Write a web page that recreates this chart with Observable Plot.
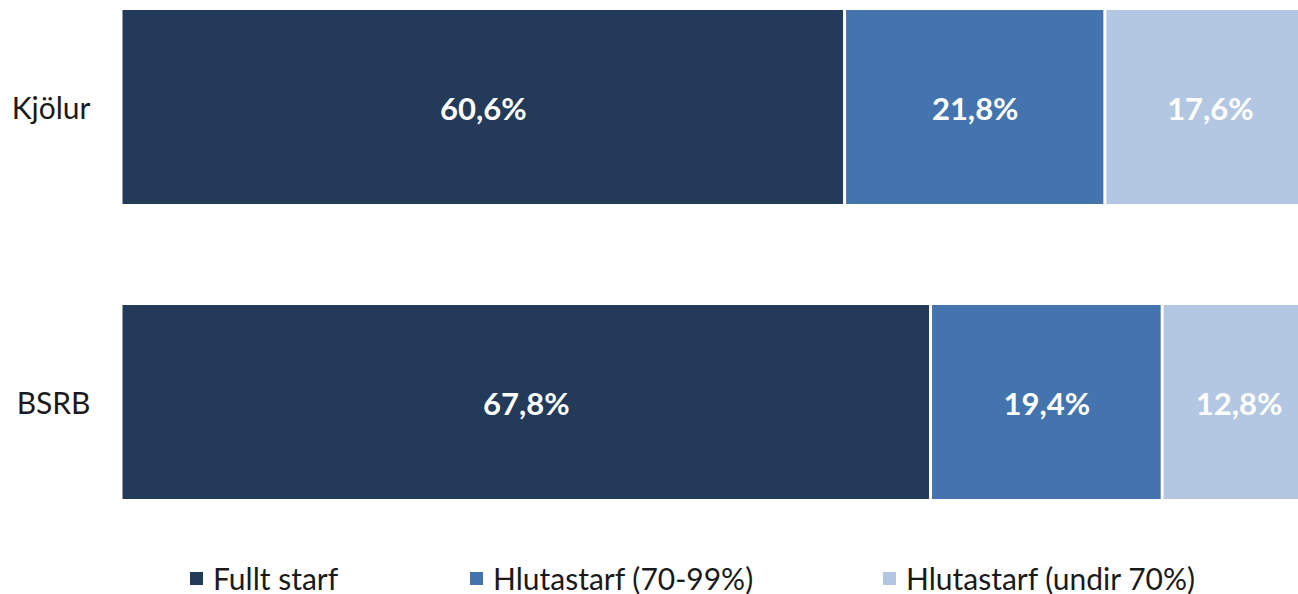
<!DOCTYPE html>
<html><head><meta charset="utf-8">
<script src="https://cdn.jsdelivr.net/npm/d3@7"></script>
<script src="https://cdn.jsdelivr.net/npm/@observablehq/plot@0.6"></script>
<style>
html,body{margin:0;padding:0;background:#fff;overflow:hidden;}
#wrap{position:relative;width:1298px;height:594px;font-family:Lato,"Open Sans",sans-serif;}
.leg{position:absolute;top:560px;display:flex;align-items:center;font-size:30px;color:#1a1a1a;white-space:nowrap;}
.sw{width:13px;height:13px;margin-right:10px;}
</style></head><body>
<div id="wrap"><div id="chart"></div><div id="legend"></div></div>
<script>
const categories = ["Kjölur", "BSRB"];
const series = ["Fullt starf", "Hlutastarf (70-99%)", "Hlutastarf (undir 70%)"];
const fulltStarf = [60.6, 67.8];
const hlutastarf7099 = [21.8, 19.4];
const hlutastarfUndir70 = [17.6, 12.8];
const colors = ["#233a58", "#4474ae", "#b3c7e2"];
const legendX = [190, 470, 883];

const seriesValues = [fulltStarf, hlutastarf7099, hlutastarfUndir70];
const data = [];
categories.forEach((c, i) => {
  series.forEach((s, j) => data.push({cat: c, series: s, value: seriesValues[j][i]}));
});
const fmt = v => v.toFixed(1).replace(".", ",") + "%";

const chart = Plot.plot({
  width: 1298,
  height: 545,
  marginLeft: 121,
  marginRight: 0,
  marginTop: 0,
  marginBottom: 0,
  style: {fontFamily: "Lato, 'Open Sans', sans-serif", background: "#fff"},
  x: {domain: [0, 100], range: [121, 1315], axis: null},
  y: {domain: categories, range: [10, 500], paddingInner: 0.342, paddingOuter: 0, label: null},
  color: {domain: series, range: colors},
  marks: [
    Plot.barX(data, Plot.stackX({x: "value", y: "cat", fill: "series", insetLeft: 1.5, insetRight: 1.5})),
    Plot.text(data, Plot.stackX({x: "value", y: "cat", text: d => fmt(d.value), fill: "white", fontSize: 31, fontWeight: "bold", dy: 3})),
    Plot.axisY({tickSize: 0, tickPadding: 31, fontSize: 30, fill: "#1a1a1a", label: null, dy: 2})
  ]
});
document.getElementById("chart").appendChild(chart);

const leg = document.getElementById("legend");
series.forEach((s, j) => {
  const d = document.createElement("div");
  d.className = "leg";
  d.style.left = legendX[j] + "px";
  d.innerHTML = `<div class="sw" style="background:${colors[j]}"></div><span>${s}</span>`;
  leg.appendChild(d);
});
</script></body></html>
